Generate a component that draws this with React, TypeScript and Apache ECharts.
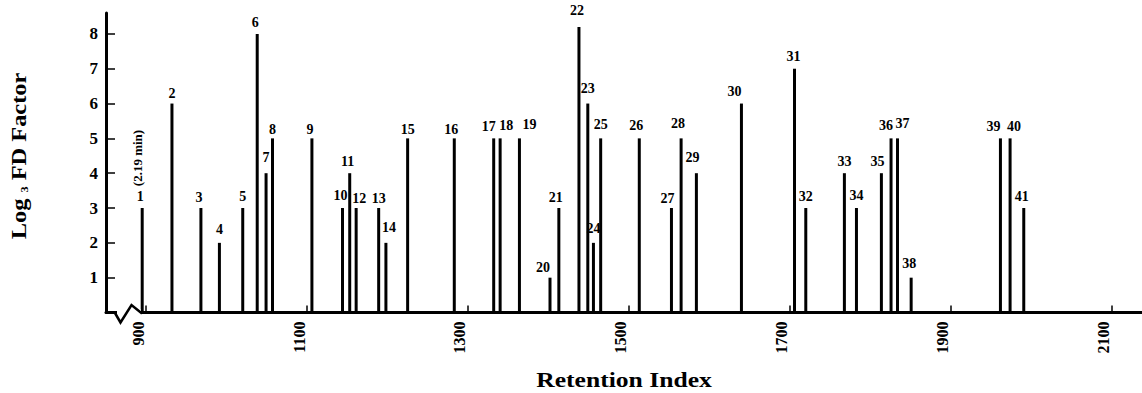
import React, { useEffect, useRef } from "react";
import * as echarts from "echarts";

// ---- data ----
const peakNumbers = [
  1, 2, 3, 4, 5, 6, 7, 8, 9, 10, 11, 12, 13, 14, 15, 16, 17, 18, 19, 20, 21,
  22, 23, 24, 25, 26, 27, 28, 29, 30, 31, 32, 33, 34, 35, 36, 37, 38, 39, 40, 41,
];
const retentionIndex = [
  895, 932, 968, 991, 1020, 1038, 1049, 1057, 1106, 1144, 1153, 1161, 1189,
  1198, 1225, 1283, 1332, 1340, 1364, 1402, 1413, 1438, 1449, 1456, 1465, 1513,
  1553, 1565, 1584, 1640, 1706, 1720, 1768, 1783, 1814, 1826, 1834, 1851, 1962,
  1974, 1991,
];
const log3FD = [
  3, 6, 3, 2, 3, 8, 4, 5, 5, 3, 4, 3, 3, 2, 5, 5, 5, 5, 5, 1, 3, 8.2, 6, 2, 5,
  5, 3, 5, 4, 6, 7, 3, 4, 3, 4, 5, 5, 1, 5, 5, 3,
];
const xTickValues = [900, 1100, 1300, 1500, 1700, 1900, 2100];
const yTickValues = [1, 2, 3, 4, 5, 6, 7, 8];
const firstPeakNote = "(2.19 min)";
const xTitle = "Retention Index";

// label nudges (style only) so peak numbers sit as in the reference
const labelNudges: number[][] = [
  [-2, 0], [0, 2], [-2, 1], [0, -1], [0, 0], [-2, 1], [0, -4], [0, 3], [-2, 3],
  [-2, -1], [-2, 0], [3, 2], [0, 2], [3, -3], [0, 3], [-3, 3], [-5, 0], [6, -1],
  [10, -2], [-7, 2], [-3, 1], [-2, -4], [0, -3], [0, -2], [0, -2], [-3, -1],
  [-4, 2], [-3, -3], [-4, -4], [-7, 0], [-1, 0], [0, 0], [0, 0], [0, -1],
  [-4, 0], [-5, -1], [5, -3], [-2, -2], [-7, 0], [4, 0], [-2, 0],
];

const SERIF = '"Liberation Serif", "Times New Roman", serif';

export default function App() {
  const ref = useRef<HTMLDivElement>(null);

  useEffect(() => {
    document.body.style.margin = "0";
    const chart = echarts.init(ref.current!, null, { renderer: "svg" });

    const barData = retentionIndex.map((ri, i) => ({
      value: [ri, log3FD[i]],
      name: String(peakNumbers[i]),
      label: { offset: labelNudges[i] },
    }));

    chart.setOption({
      animation: false,
      backgroundColor: "#ffffff",
      grid: { left: 106, right: 0, top: 13, bottom: 80.5 },
      xAxis: {
        type: "value",
        min: 850,
        max: 2138,
        axisLine: { show: true, lineStyle: { color: "#000", width: 3 } },
        axisTick: {
          show: true,
          inside: true,
          length: 7,
          customValues: xTickValues,
          lineStyle: { color: "#000", width: 1.5 },
        },
        axisLabel: {
          customValues: xTickValues,
          formatter: (v: number) => String(v),
          rotate: 90,
          margin: 9,
          verticalAlign: "bottom",
          color: "#000",
          fontFamily: SERIF,
          fontWeight: "bold",
          fontSize: 16,
        },
        splitLine: { show: false },
      },
      yAxis: {
        type: "value",
        min: 0,
        max: 8.6,
        axisLine: { show: true, lineStyle: { color: "#000", width: 3 } },
        axisTick: {
          show: true,
          inside: true,
          length: 9,
          customValues: yTickValues,
          lineStyle: { color: "#000", width: 1.5 },
        },
        axisLabel: {
          customValues: yTickValues,
          formatter: (v: number) => String(v),
          margin: 8,
          color: "#000",
          fontFamily: SERIF,
          fontWeight: "bold",
          fontSize: 17,
        },
        splitLine: { show: false },
      },
      series: [
        {
          type: "bar",
          barWidth: 3,
          itemStyle: { color: "#000" },
          data: barData,
          label: {
            show: true,
            position: "top",
            distance: 5,
            formatter: (p: any) => p.name,
            color: "#000",
            fontFamily: SERIF,
            fontWeight: "bold",
            fontSize: 14,
          },
        },
      ],
    });

    // decorations computed through the chart's own scales
    const origin = chart.convertToPixel({ gridIndex: 0 }, [850, 0]) as number[];
    const p1 = chart.convertToPixel({ gridIndex: 0 }, [
      retentionIndex[0],
      log3FD[0],
    ]) as number[];
    const ox = origin[0];
    const oy = origin[1];

    chart.setOption({
      graphic: [
        {
          id: "breakMask",
          type: "rect",
          shape: { x: ox + 11, y: oy - 3, width: 24, height: 6 },
          style: { fill: "#fff" },
          z: 100,
        },
        {
          id: "breakZig",
          type: "polyline",
          shape: {
            points: [
              [ox + 9, oy + 0.5],
              [ox + 14.5, oy + 10],
              [ox + 25.5, oy - 7.5],
              [ox + 36, oy + 1],
            ],
          },
          style: { stroke: "#000", lineWidth: 2.5, fill: null },
          z: 101,
        },
        {
          id: "note",
          type: "text",
          x: p1[0] - 5,
          y: p1[1] - 50,
          rotation: Math.PI / 2,
          style: {
            text: firstPeakNote,
            font: `bold 13px ${SERIF}`,
            fill: "#000",
            textAlign: "center",
            textVerticalAlign: "middle",
          },
          z: 102,
        },
        {
          id: "xTitle",
          type: "text",
          x: 624,
          y: 380,
          scaleX: 1.28,
          style: {
            text: xTitle,
            font: `bold 20px ${SERIF}`,
            fill: "#000",
            textAlign: "center",
            textVerticalAlign: "middle",
          },
        },
        {
          id: "yTitle",
          type: "text",
          x: 19,
          y: 156,
          rotation: Math.PI / 2,
          scaleX: 1.22,
          style: {
            text: "{a|Log }{s|3}{a| FD Factor}",
            fill: "#000",
            textAlign: "center",
            textVerticalAlign: "middle",
            rich: {
              a: { fontFamily: SERIF, fontWeight: "bold", fontSize: 20 },
              s: {
                fontFamily: SERIF,
                fontWeight: "bold",
                fontSize: 10,
                verticalAlign: "bottom",
                padding: [6, 0, 0, 0],
              },
            },
          },
        },
      ],
    });

    return () => chart.dispose();
  }, []);

  return (
    <div
      ref={ref}
      style={{ position: "absolute", left: 0, top: 0, width: 1142, height: 393 }}
    />
  );
}
